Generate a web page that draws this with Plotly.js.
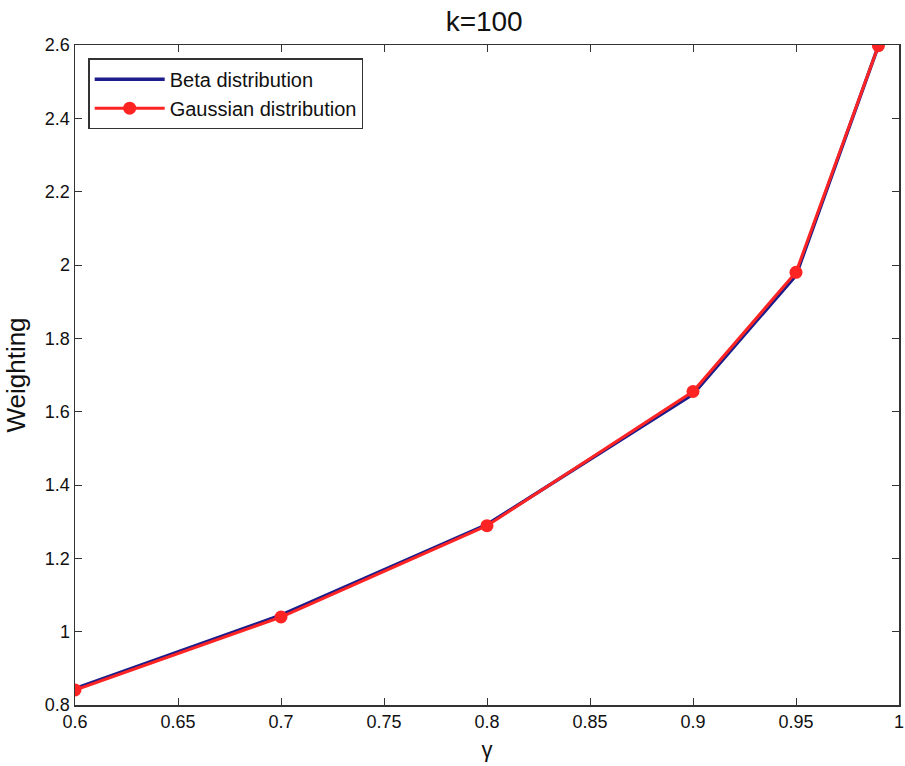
<!DOCTYPE html>
<html>
<head>
<meta charset="utf-8">
<script src="https://cdn.plot.ly/plotly-3.0.1.min.js"></script>
<style>html,body{margin:0;padding:0;background:#fff;}#chart{width:905px;height:766px;}</style>
</head>
<body>
<div id="chart"></div>
<script>
var gamma = [0.6, 0.7, 0.8, 0.9, 0.95, 0.99];
var betaWeighting = [0.845, 1.045, 1.292, 1.648, 1.972, 2.598];
var gaussianWeighting = [0.841, 1.040, 1.289, 1.655, 1.980, 2.598];
var xTicks = [0.6, 0.65, 0.7, 0.75, 0.8, 0.85, 0.9, 0.95, 1];
var xTickLabels = ['0.6', '0.65', '0.7', '0.75', '0.8', '0.85', '0.9', '0.95', '1'];
var yTicks = [0.8, 1, 1.2, 1.4, 1.6, 1.8, 2, 2.2, 2.4, 2.6];
var yTickLabels = ['0.8', '1', '1.2', '1.4', '1.6', '1.8', '2', '2.2', '2.4', '2.6'];

var FONT = 'Liberation Sans, Arial, sans-serif';

var traces = [
  {x: gamma, y: betaWeighting, name: 'Beta distribution', mode: 'lines',
   line: {color: '#1c1c8a', width: 3.5}},
  {x: gamma, y: gaussianWeighting, name: 'Gaussian distribution', mode: 'lines+markers',
   line: {color: '#ff2424', width: 3}, marker: {color: '#ff2424', size: 13}}
];

var axisCommon = {
  showgrid: false, zeroline: false, showline: true, mirror: 'ticks',
  linecolor: '#333', linewidth: 1.5, ticks: 'inside', ticklen: 7, tickcolor: '#333',
  ticklabeloverflow: 'allow',
  tickfont: {family: FONT, size: 18, color: '#111'}
};

var layout = {
  width: 905, height: 766,
  margin: {l: 75, r: 6, t: 45, b: 61},
  paper_bgcolor: '#fff', plot_bgcolor: '#fff',
  title: {text: 'k=100', x: 0.535, xanchor: 'center', y: 0.985, yanchor: 'top',
          font: {family: FONT, size: 28, color: '#111'}},
  xaxis: Object.assign({}, axisCommon, {
    range: [0.6, 1], tickvals: xTicks, ticktext: xTickLabels,
    title: {text: 'γ', standoff: 10, font: {family: FONT, size: 22, color: '#111'}}
  }),
  yaxis: Object.assign({}, axisCommon, {
    range: [0.8, 2.6], tickvals: yTicks, ticktext: yTickLabels,
    title: {text: 'Weighting', standoff: 12, font: {family: FONT, size: 26, color: '#111'}}
  }),
  legend: {x: 0.016, y: 0.98, xanchor: 'left', yanchor: 'top',
           bgcolor: '#fff', bordercolor: '#333', borderwidth: 1.5,
           font: {family: FONT, size: 20, color: '#111'},
           itemwidth: 70, tracegroupgap: 0},
  showlegend: true
};

Plotly.newPlot('chart', traces, layout, {displayModeBar: false, staticPlot: true});
</script>
</body>
</html>
